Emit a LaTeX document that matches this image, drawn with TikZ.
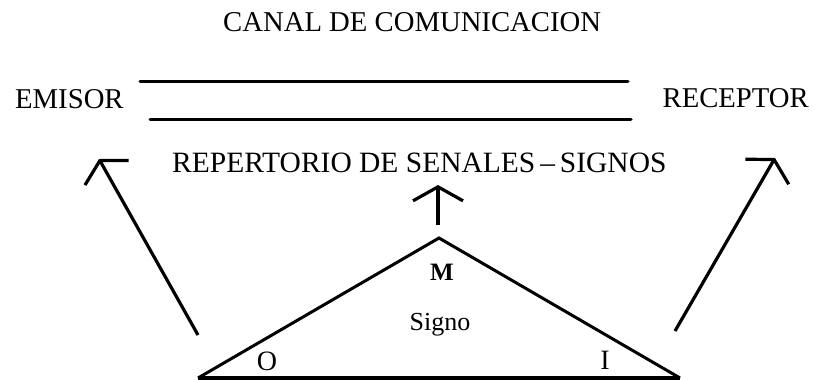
\documentclass[tikz,border=0pt]{standalone}
\usepackage{fontspec}
\setmainfont{Liberation Serif}
\usetikzlibrary{arrows.meta}
\begin{document}
\begin{tikzpicture}[x=1pt,y=-1pt,
  lbl/.style={inner sep=0pt,font=\fontsize{28.7}{30}\selectfont},
  corner/.style={inner sep=0pt,font=\fontsize{28}{30}\selectfont},
  chan/.style={line width=3pt,line cap=round},
  side/.style={line width=3pt,line join=miter},
  base/.style={line width=4pt},
  sarrow/.style={line width=3.2pt,-{Straight Barb[length=14pt,width=50pt,line width=3.2pt]}}]
\useasboundingbox (0,0) rectangle (814,380);
% texts
\node[lbl,anchor=base west] (canal) at (223,31) {CANAL DE COMUNICACION};
\node[lbl,anchor=base west] (emisor) at (15,108) {EMISOR};
\node[lbl,anchor=base east] (receptor) at (809,107) {RECEPTOR};
\node[lbl,anchor=base west,font=\fontsize{29.5}{31}\selectfont] (rep) at (172,172) {REPERTORIO DE SENALES\,–\,SIGNOS};
% channel lines
\coordinate (ctl) at (140,81);
\coordinate (ctr) at (628,81);
\coordinate (cbl) at (150,119);
\coordinate (cbr) at (631,119);
\draw[chan] (ctl) -- (ctr);
\draw[chan] (cbl) -- (cbr);
% triangle
\coordinate (tO) at (198,378);
\coordinate (tM) at (439,238);
\coordinate (tI) at (680,378);
\draw[side] (tO) -- (tM) -- (tI);
\draw[base] (tO) -- (tI);
\node[inner sep=0pt,font=\fontsize{25}{27}\selectfont\bfseries,anchor=base] (lm) at (442,280) {M};
\node[inner sep=0pt,font=\fontsize{26}{28}\selectfont,anchor=base] (signo) at (440,330) {Signo};
\node[corner,anchor=base] (lo) at (267,370) {O};
\node[corner,anchor=base] (li) at (605,369) {I};
% arrows
\coordinate (la1) at (198,335);
\coordinate (la2) at (99,159);
\coordinate (ra1) at (675,331);
\coordinate (ra2) at (775,158);
\coordinate (ma1) at (438,225);
\coordinate (ma2) at (438,185);
\draw[sarrow] (la1) -- (la2);
\draw[sarrow] (ra1) -- (ra2);
\draw[sarrow] (ma1) -- (ma2);
\end{tikzpicture}
\end{document}
